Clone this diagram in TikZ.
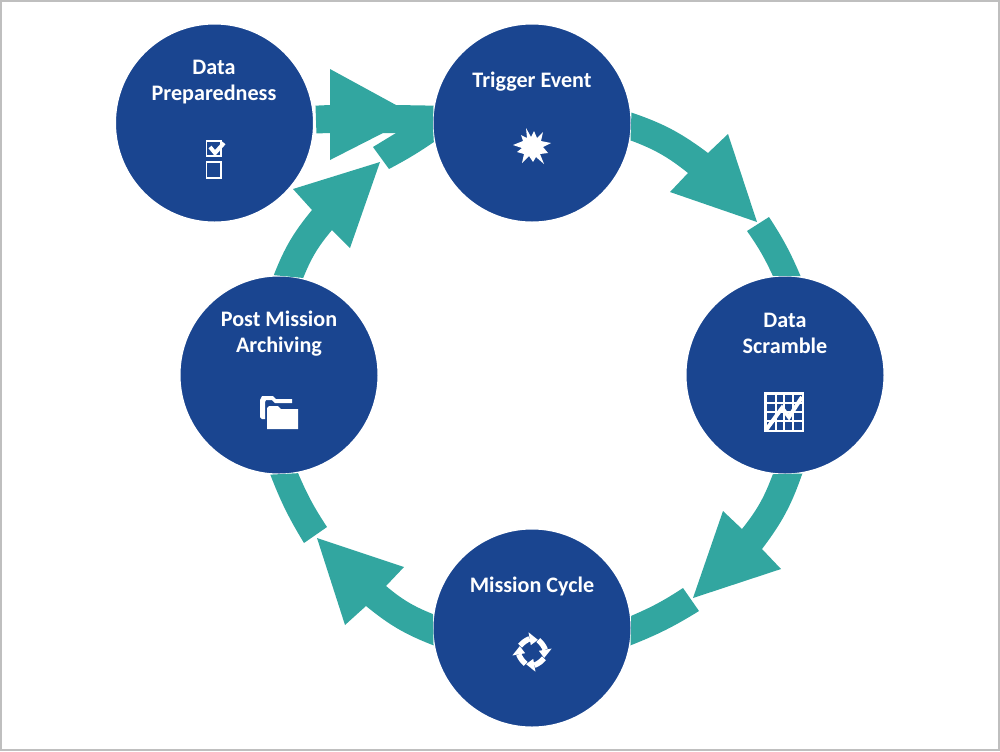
\documentclass[tikz,border=0pt]{standalone}
\usepackage{fontspec}
\setmainfont{Carlito}
\definecolor{stepblue}{HTML}{1A4590}
\definecolor{ringteal}{HTML}{32A6A0}
\definecolor{framegrey}{HTML}{BFBFBF}
\begin{document}
\begin{tikzpicture}[
      x=0.2mm, y=-0.2mm,
      stepcircle/.style={circle, fill=stepblue, draw=white, line width=0.3mm, inner sep=0pt, minimum size=39.7mm},
      steptext/.style={text=white, font=\fontsize{12.6}{14.7}\selectfont\bfseries, align=center},
      ringarrow/.style={fill=ringteal},
      iconfill/.style={fill=white},
      iconline/.style={draw=white, line width=0.35mm},
      iconthin/.style={draw=white, line width=0.25mm}
    ]
      \useasboundingbox (0,0) rectangle (1000,751);
      \draw[framegrey, line width=0.4mm] (1,1) rectangle (999,750);

      \node[stepcircle] (prep) at (214.5,123) {};
      \node[stepcircle] (trigger) at (532,123) {};
      \node[stepcircle] (scramble) at (785,375) {};
      \node[stepcircle] (cycle) at (532,628) {};
      \node[stepcircle] (archive) at (279,375) {};

      \node[steptext] (preplabel) at (214,82) {Data\\Preparedness};
      \node[steptext] (triggerlabel) at (532,82) {Trigger Event};
      \node[steptext] (scramblelabel) at (785,333) {Data\\Scramble};
      \node[steptext] (cyclelabel) at (532,586) {Mission Cycle};
      \node[steptext] (archivelabel) at (279,334) {Post Mission\\Archiving};

      % trigger to scramble
      \fill[ringarrow] (trigger.6) to[bend left=9] (708,153) -- (728,134) -- (757,222)
        -- (670,192) -- (688,173) to[bend right=9] (trigger.-10) -- cycle;
      \fill[ringarrow] (769,217) to[bend left=5] (scramble.81) -- (scramble.97)
        to[bend right=5] (747,231) -- cycle;

      % scramble to cycle
      \fill[ringarrow] (scramble.-80) to[bend left=9] (762,549) -- (781,569) -- (693,598)
        -- (723,511) -- (742,529) to[bend right=9] (scramble.-97) -- cycle;
      \fill[ringarrow] (699,611) to[bend left=5] (cycle.-10) -- (cycle.7)
        to[bend right=5] (683,588) -- cycle;

      % cycle to archive
      \fill[ringarrow] (cycle.190) to[bend left=9] (366,606) -- (345,625) -- (317,538)
        -- (404,567) -- (386,586) to[bend right=9] (cycle.172) -- cycle;
      \fill[ringarrow] (304,543) to[bend left=5] (archive.-95) -- (archive.-79)
        to[bend right=5] (327,527) -- cycle;

      % archive to trigger
      \fill[ringarrow] (archive.93) to[bend left=9] (312,210) -- (293,189) -- (380,162)
        -- (350,248) -- (332,230) to[bend right=9] (archive.76) -- cycle;
      \fill[ringarrow] (373,147) -- (396,133) -- (trigger.176) -- (trigger.191)
        to[bend left=3] (389,169) -- cycle;

      % prep to trigger
      \fill[ringarrow] ([xshift=0.5mm]prep.10) -- (330,105) -- (330,69) -- (396,105) -- (trigger.170)
        -- (trigger.186) -- (396,133) -- (383,133) -- (330,160) -- (330,133) -- ([xshift=0.5mm]prep.-6) -- cycle;

      % icons
      \draw[iconline] (206.5,141) rectangle (221,156);
      \draw[iconline] (206.5,162) rectangle (221,178);
      \draw[white, line width=0.8mm] (210,147) -- (215,153) -- (224,143);

      \fill[iconfill] (526,128) -- (531,137) -- (534,131) -- (537,138) -- (543,132) -- (541,141)
        -- (551,143) -- (543,147) -- (548,153) -- (540,154) -- (544,164) -- (536,157) -- (533,162)
        -- (529,156) -- (522,163) -- (524,154) -- (517,152) -- (522,148) -- (513,145) -- (523,141)
        -- (521,135) -- (527,138) -- cycle;

      \draw[white, line width=0.5mm] (765.5,393.5) rectangle (803,431);
      \foreach \i in {776,784,793}{
        \draw[iconthin] (\i,393) -- (\i,431);
      }
      \foreach \j in {403,412,421}{
        \draw[iconthin] (765,\j) -- (803,\j);
      }
      \draw[white, line width=0.8mm] (766,430) -- (782,408) -- (789,417) -- (802,397);

      \foreach \r in {0,90,180,270}{
        \begin{scope}[shift={(532,652)}, rotate=\r]
          \draw[white, line width=1.1mm] (-152:13.5) to[bend left=12] (-100:13.5);
          \fill[iconfill] (-100:7) -- (-100:20) -- (-64:13.5) -- cycle;
        \end{scope}
      }

      \fill[iconfill] (260,400) -- (262,396) -- (273,396) -- (276,399) -- (292,399) -- (292,403)
        -- (275,403) -- (272,400) -- (266,400) -- (265,402) -- (265,419) -- (262,419) -- (260,417) -- cycle;
      \fill[iconfill] (267,408) -- (269,406) -- (278,406) -- (281,409) -- (298,409) -- (298,429)
        -- (267,429) -- cycle;
    \end{tikzpicture}
\end{document}
